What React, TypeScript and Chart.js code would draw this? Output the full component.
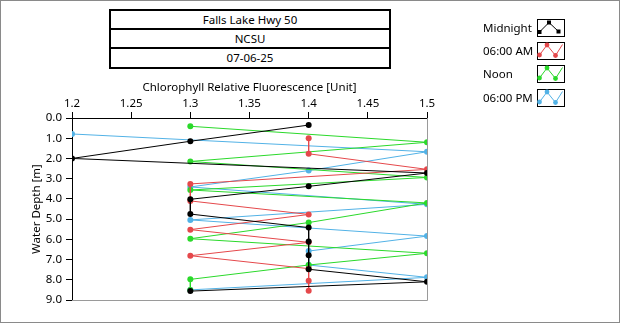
import React, { useEffect, useRef } from "react";
import { Chart, registerables } from "chart.js";
Chart.register(...registerables);

const FONT = '"Noto Sans", sans-serif';
const FS = 11.5;

const titleLines = ["Falls Lake Hwy 50", "NCSU", "07-06-25"];
const seriesNames = ["Midnight", "06:00 AM", "Noon", "06:00 PM"];
const seriesColors = ["#000000", "#e5484b", "#2bd92b", "#52b2e6"];

const xTickValues = [1.2, 1.25, 1.3, 1.35, 1.4, 1.45, 1.5];
const xTickLabels = ["1.2", "1.25", "1.3", "1.35", "1.4", "1.45", "1.5"];
const yTickValues = [0, 1, 2, 3, 4, 5, 6, 7, 8, 9];
const yTickLabels = ["0.0", "1.0", "2.0", "3.0", "4.0", "5.0", "6.0", "7.0", "8.0", "9.0"];

const midnightValue = [1.4, 1.3, 1.2, 1.5, 1.4, 1.3, 1.3, 1.4, 1.4, 1.4, 1.4, 1.5, 1.3];
const midnightDepth = [0.35, 1.15, 2.0, 2.72, 3.38, 4.02, 4.75, 5.42, 6.11, 6.79, 7.48, 8.1, 8.56];
const amValue = [1.4, 1.4, 1.5, 1.3, 1.3, 1.4, 1.3, 1.4, 1.3, 1.4, 1.4, 1.4];
const amDepth = [1.0, 1.77, 2.54, 3.26, 4.1, 4.77, 5.52, 6.15, 6.81, 7.45, 8.05, 8.54];
const noonValue = [1.3, 1.5, 1.3, 1.5, 1.3, 1.5, 1.4, 1.3, 1.5, 1.4, 1.3, 1.3];
const noonDepth = [0.41, 1.2, 2.15, 2.94, 3.56, 4.2, 5.17, 5.97, 6.69, 7.27, 7.98, 8.5];
const pmValue = [1.2, 1.5, 1.4, 1.3, 1.5, 1.3, 1.5, 1.4, 1.4, 1.5, 1.3];
const pmDepth = [0.79, 1.67, 2.6, 3.41, 4.27, 5.04, 5.84, 6.58, 7.27, 7.88, 8.5];

const seriesValues = [midnightValue, amValue, noonValue, pmValue];
const seriesDepths = [midnightDepth, amDepth, noonDepth, pmDepth];

const framePlugin = {
  id: "frame",
  afterDraw(chart: any) {
    const { ctx, chartArea } = chart;
    const { left, top, right, bottom } = chartArea;
    ctx.save();
    ctx.strokeStyle = "#9a9a9a";
    ctx.lineWidth = 1;
    ctx.beginPath();
    ctx.moveTo(Math.round(right) + 0.5, top);
    ctx.lineTo(Math.round(right) + 0.5, Math.round(bottom) + 0.5);
    ctx.lineTo(left, Math.round(bottom) + 0.5);
    ctx.stroke();
    ctx.restore();
  },
};

function LegendIcon({ color, idx }: { color: string; idx: number }) {
  if (idx === 0) {
    const pts = [[2.5, 13], [12, 3.5], [21.5, 12.5]];
    return (
      <svg width={28} height={18} style={{ display: "block" }}>
        <rect x={0.5} y={0.5} width={27} height={17} fill="#fff" stroke="#000" />
        <polyline points={pts.map((p) => p.join(",")).join(" ")} fill="none" stroke={color} strokeWidth={1} />
        {pts.map((p, i) => (
          <rect key={i} x={p[0] - 2} y={p[1] - 2} width={4} height={4} fill={color} />
        ))}
      </svg>
    );
  }
  const pts = [[2.5, 13], [10, 3], [18.5, 13.5], [25.5, 2.5]];
  return (
    <svg width={28} height={18} style={{ display: "block" }}>
      <rect x={0.5} y={0.5} width={27} height={17} fill="#fff" stroke="#000" />
      <polyline points={pts.map((p) => p.join(",")).join(" ")} fill="none" stroke={color} strokeWidth={1} />
      {pts.slice(0, 3).map((p, i) => (
        <circle key={i} cx={p[0]} cy={p[1]} r={2.4} fill={color} />
      ))}
    </svg>
  );
}

export default function App() {
  const ref = useRef<HTMLCanvasElement | null>(null);
  useEffect(() => {
    if (!ref.current) return;
    const datasets = seriesNames.map((name, i) => ({
      label: name,
      data: seriesValues[i].map((v, j) => ({ x: v, y: seriesDepths[i][j] })),
      borderColor: seriesColors[i],
      backgroundColor: seriesColors[i],
      pointBackgroundColor: seriesColors[i],
      pointBorderColor: seriesColors[i],
      pointRadius: 3,
      pointBorderWidth: 0,
      borderWidth: 1,
      showLine: true,
      tension: 0,
    }));
    const chart = new Chart(ref.current, {
      type: "scatter",
      data: { datasets },
      plugins: [framePlugin],
      options: {
        animation: false,
        responsive: false,
        maintainAspectRatio: false,
        devicePixelRatio: 1,
        layout: { padding: { left: 26, top: 68, right: 193, bottom: 24 } },
        plugins: { legend: { display: false }, tooltip: { enabled: false }, title: { display: false } },
        scales: {
          x: {
            type: "linear",
            position: "top",
            min: 1.2,
            max: 1.5,
            afterBuildTicks: (scale: any) => {
              scale.ticks = xTickValues.map((v) => ({ value: v }));
            },
            afterFit: (scale: any) => {
              scale.height = 50;
            },
            ticks: {
              color: "#000",
              font: { family: FONT, size: FS },
              padding: 1,
              maxRotation: 0,
              autoSkip: false,
              callback: (_v: any, i: number) => xTickLabels[i],
            },
            grid: { display: true, drawOnChartArea: false, drawTicks: true, tickLength: 6, color: "#000" },
            border: { display: true, color: "#000", width: 1 },
            title: {
              display: true,
              text: "Chlorophyll Relative Fluorescence [Unit]",
              color: "#000",
              font: { family: FONT, size: FS },
              padding: { top: 13, bottom: 0 },
            },
          },
          y: {
            type: "linear",
            position: "left",
            reverse: true,
            min: 0,
            max: 9,
            afterBuildTicks: (scale: any) => {
              scale.ticks = yTickValues.map((v) => ({ value: v }));
            },
            afterFit: (scale: any) => {
              scale.width = 46;
            },
            ticks: {
              color: "#000",
              font: { family: FONT, size: FS },
              padding: 4,
              autoSkip: false,
              callback: (_v: any, i: number) => yTickLabels[i],
            },
            grid: { display: true, drawOnChartArea: false, drawTicks: true, tickLength: 6, color: "#000" },
            border: { display: true, color: "#000", width: 1 },
            title: {
              display: true,
              text: "Water Depth [m]",
              color: "#000",
              font: { family: FONT, size: FS },
              padding: { top: 4, bottom: 0 },
            },
          },
        },
      },
    } as any);
    return () => chart.destroy();
  }, []);

  return (
    <div
      style={{
        position: "fixed",
        left: 0,
        top: 0,
        width: 620,
        height: 324,
        background: "#fff",
        fontFamily: FONT,
        fontSize: FS,
        color: "#000",
      }}
    >
      <div
        style={{
          position: "absolute",
          left: 0,
          top: 0,
          width: 618,
          height: 321,
          border: "1px solid #8a8a8a",
        }}
      />
      <canvas ref={ref} width={620} height={324} style={{ position: "absolute", left: 0, top: 0, width: 620, height: 324 }} />
      <div
        style={{
          position: "absolute",
          left: 109,
          top: 9,
          width: 278,
          border: "2px solid #000",
          background: "#fff",
        }}
      >
        {titleLines.map((t, i) => (
          <div
            key={i}
            style={{
              height: i < 2 ? 17 : 18,
              lineHeight: i < 2 ? "17px" : "18px",
              textAlign: "center",
              borderBottom: i < 2 ? "2px solid #000" : "none",
            }}
          >
            {t}
          </div>
        ))}
      </div>
      {seriesNames.map((name, i) => (
        <div key={name} style={{ position: "absolute", left: 483, top: 19 + i * 23.2, height: 18, display: "flex", alignItems: "center" }}>
          <div style={{ width: 54, lineHeight: "18px", whiteSpace: "nowrap" }}>{name}</div>
          <LegendIcon color={seriesColors[i]} idx={i} />
        </div>
      ))}
    </div>
  );
}
